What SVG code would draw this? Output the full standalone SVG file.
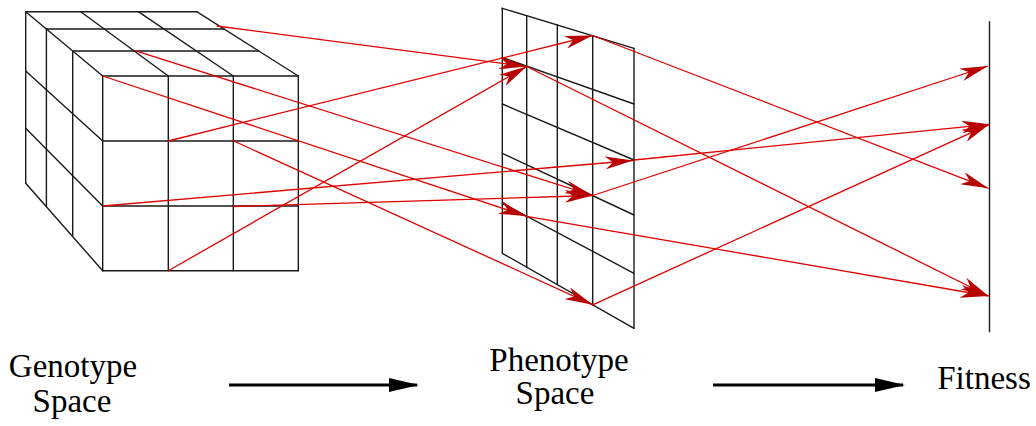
<svg xmlns="http://www.w3.org/2000/svg" width="1036" height="426" viewBox="0 0 1036 426">
<style>
.g{stroke:#1a1a1a;stroke-width:1.4;fill:none;stroke-linecap:round}
.r{stroke:#e00000;stroke-width:1.3;fill:none;marker-end:url(#rh)}
.b{stroke:#000;stroke-width:3;fill:none;marker-end:url(#bh)}
</style>
<defs>
<marker id="rh" markerUnits="userSpaceOnUse" viewBox="0 0 28 13" markerWidth="28" markerHeight="13" refX="28" refY="6.5" orient="auto">
<path d="M0,0 L28,6.5 L0,13 L8,6.5 Z" fill="#b80000"/>
</marker>
<marker id="bh" markerUnits="userSpaceOnUse" viewBox="0 0 30 14" markerWidth="30" markerHeight="14" refX="28" refY="7" orient="auto">
<path d="M0,0 L30,7 L0,14 Z" fill="#000"/>
</marker>
</defs>
<rect width="1036" height="426" fill="#fff"/>
<g id="genotype-cube" class="g">
<line x1="25.7" y1="11.7" x2="196.7" y2="11.7"/>
<line x1="46.4" y1="29" x2="224" y2="29"/>
<line x1="72.7" y1="51" x2="258.8" y2="51"/>
<line x1="102.7" y1="76" x2="298.3" y2="76"/>
<line x1="25.7" y1="11.7" x2="102.7" y2="76"/>
<line x1="80.7" y1="11.7" x2="168.3" y2="76"/>
<line x1="138.3" y1="11.7" x2="233.3" y2="76"/>
<line x1="196.7" y1="11.7" x2="298.3" y2="76"/>
<line x1="102.7" y1="76" x2="102.7" y2="270.7"/>
<line x1="168.3" y1="76" x2="168.3" y2="270.7"/>
<line x1="233.3" y1="76" x2="233.3" y2="270.7"/>
<line x1="298.3" y1="76" x2="298.3" y2="270.7"/>
<line x1="102.7" y1="141" x2="298.3" y2="141"/>
<line x1="102.7" y1="206" x2="298.3" y2="206"/>
<line x1="102.7" y1="270.7" x2="298.3" y2="270.7"/>
<line x1="25.7" y1="11.7" x2="25.7" y2="183.3"/>
<line x1="46.4" y1="29" x2="46.4" y2="206.4"/>
<line x1="72.7" y1="52" x2="72.7" y2="235.5"/>
<line x1="25.7" y1="71" x2="102.7" y2="141"/>
<line x1="25.7" y1="128.3" x2="102.7" y2="206"/>
<line x1="25.7" y1="183.3" x2="102.7" y2="270.7"/>
</g>
<g id="phenotype-grid" class="g">
<line x1="502.3" y1="8.3" x2="634" y2="48.3"/>
<line x1="502.3" y1="57.5" x2="634" y2="104"/>
<line x1="502.3" y1="104" x2="634" y2="160"/>
<line x1="502.3" y1="153.3" x2="634" y2="215"/>
<line x1="502.3" y1="203.3" x2="634" y2="273.3"/>
<line x1="502.3" y1="253.3" x2="634" y2="328.3"/>
<line x1="502.3" y1="8.3" x2="502.3" y2="253.3"/>
<line x1="526.7" y1="15.7" x2="526.7" y2="267.2"/>
<line x1="557.3" y1="25" x2="557.3" y2="284.6"/>
<line x1="592.7" y1="35.8" x2="592.7" y2="304.8"/>
<line x1="634" y1="48.3" x2="634" y2="328.3"/>
</g>
<g id="fitness-axis" class="g">
<line x1="989.5" y1="21.7" x2="989.5" y2="331.7"/>
</g>
<g id="connectors">
<line class="r" x1="216.7" y1="26" x2="526.7" y2="66.5"/>
<line class="r" x1="135" y1="50.7" x2="592.7" y2="195.5"/>
<line class="r" x1="102.7" y1="76" x2="526.7" y2="216.3"/>
<line class="r" x1="168.3" y1="141" x2="592.7" y2="35.5"/>
<line class="r" x1="231.7" y1="140" x2="592.7" y2="304.8"/>
<line class="r" x1="102.7" y1="206" x2="633" y2="160.5"/>
<line class="r" x1="233.3" y1="206.5" x2="592.7" y2="195.5"/>
<line class="r" x1="168.3" y1="270.7" x2="526.7" y2="66.5"/>
<line class="r" x1="592.7" y1="35.5" x2="988.5" y2="188.3"/>
<line class="r" x1="526.7" y1="66.5" x2="988.5" y2="296"/>
<line class="r" x1="634" y1="160" x2="989.5" y2="124.3"/>
<line class="r" x1="592.7" y1="195.5" x2="988" y2="66"/>
<line class="r" x1="526.7" y1="216.3" x2="988.5" y2="296"/>
<line class="r" x1="592.7" y1="304.8" x2="989.5" y2="124.3"/>
<line class="b" x1="229" y1="385" x2="417" y2="385"/>
<line class="b" x1="713" y1="385" x2="903" y2="385"/>
</g>
<g id="labels" font-family="Times New Roman, Liberation Serif, DejaVu Serif, serif" font-size="33" fill="#000" text-anchor="middle">
<text x="73" y="377">Genotype</text>
<text x="72" y="412">Space</text>
<text x="559" y="371">Phenotype</text>
<text x="555" y="404">Space</text>
<text x="984" y="389">Fitness</text>
</g>
</svg>
